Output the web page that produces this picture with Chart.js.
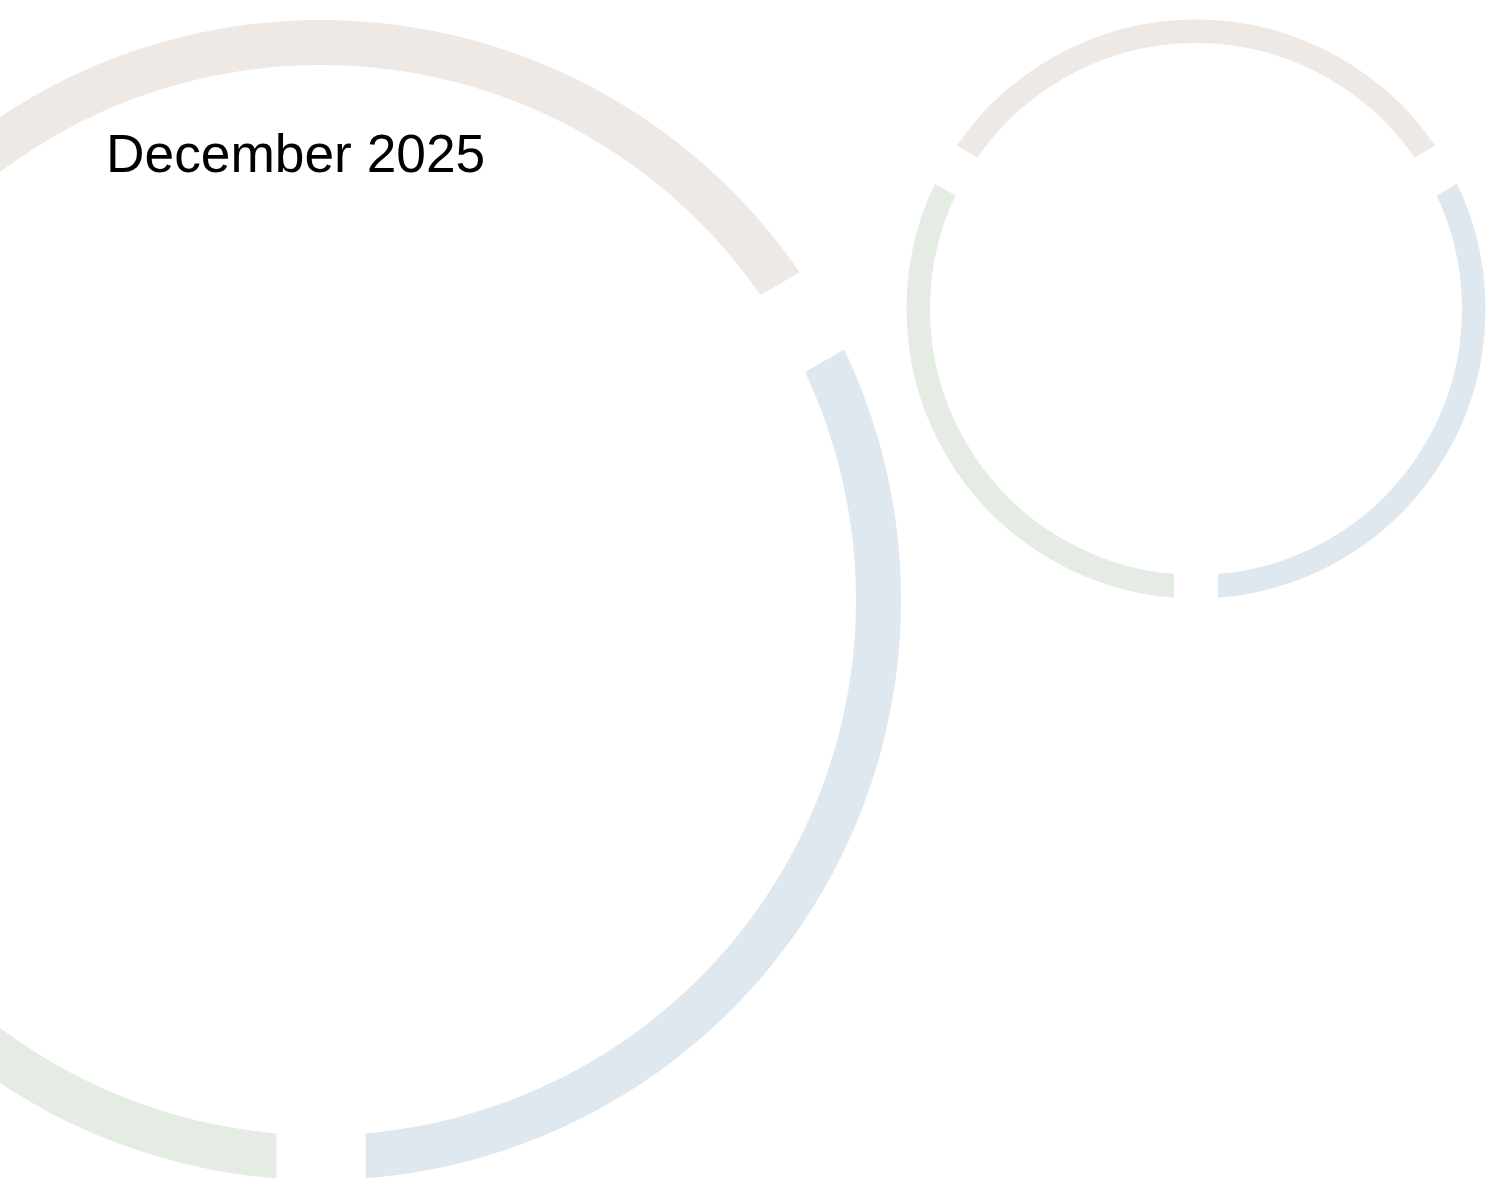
<!DOCTYPE html>
<html>
<head>
<meta charset="utf-8">
<script src="https://cdn.jsdelivr.net/npm/chart.js@4.4.1/dist/chart.umd.min.js"></script>
<style>
  html, body { margin: 0; padding: 0; width: 1509px; height: 1191px; overflow: hidden; background: #ffffff; }
  canvas { position: absolute; }
  #big { left: -379.5px; top: -100px; z-index: 1; }
  #small { left: 846px; top: -41.5px; z-index: 2; }
  #title { position: absolute; left: 106px; top: 126.5px; z-index: 5; font-family: "Liberation Sans", Arial, sans-serif; font-size: 53.3px; line-height: 53.3px; color: #000000; white-space: nowrap; }
</style>
</head>
<body>
<div id="title">December 2025</div>
<canvas id="big" width="1400" height="1400"></canvas>
<canvas id="small" width="700" height="700"></canvas>
<script>
// Data: three equal arcs per ring (degrees of the circle)
const categories = ['Segment A', 'Segment B', 'Segment C'];
const bigValues = [120, 120, 120];
const smallValues = [120, 120, 120];
const titleText = 'December 2025';

const ringColors = ['#dfe7ef', '#e4ece4', '#eee9e4'];

function makeRing(id, values, outerR, innerR, gap) {
  // ring drawn wider, white borders of width `gap` trim it to the visible band and cut parallel gaps
  const ext = gap / 2;
  const R = outerR + ext;
  const r = innerR - ext;
  return new Chart(document.getElementById(id), {
    type: 'doughnut',
    data: {
      labels: categories,
      datasets: [{
        data: values,
        backgroundColor: ringColors,
        borderColor: '#ffffff',
        borderWidth: gap,
        borderAlign: 'center',
        hoverBorderWidth: gap,
        hoverOffset: 0,
        offset: 0
      }]
    },
    options: {
      responsive: false,
      animation: false,
      rotation: 60,
      radius: R,
      cutout: (r / R * 100) + '%',
      layout: { padding: 0 },
      plugins: { legend: { display: false }, tooltip: { enabled: false }, title: { display: false } },
      events: []
    }
  });
}

makeRing('big', bigValues, 580, 535, 89);
makeRing('small', smallValues, 289.5, 266, 44);
document.getElementById('title').textContent = titleText;
</script>
</body>
</html>
